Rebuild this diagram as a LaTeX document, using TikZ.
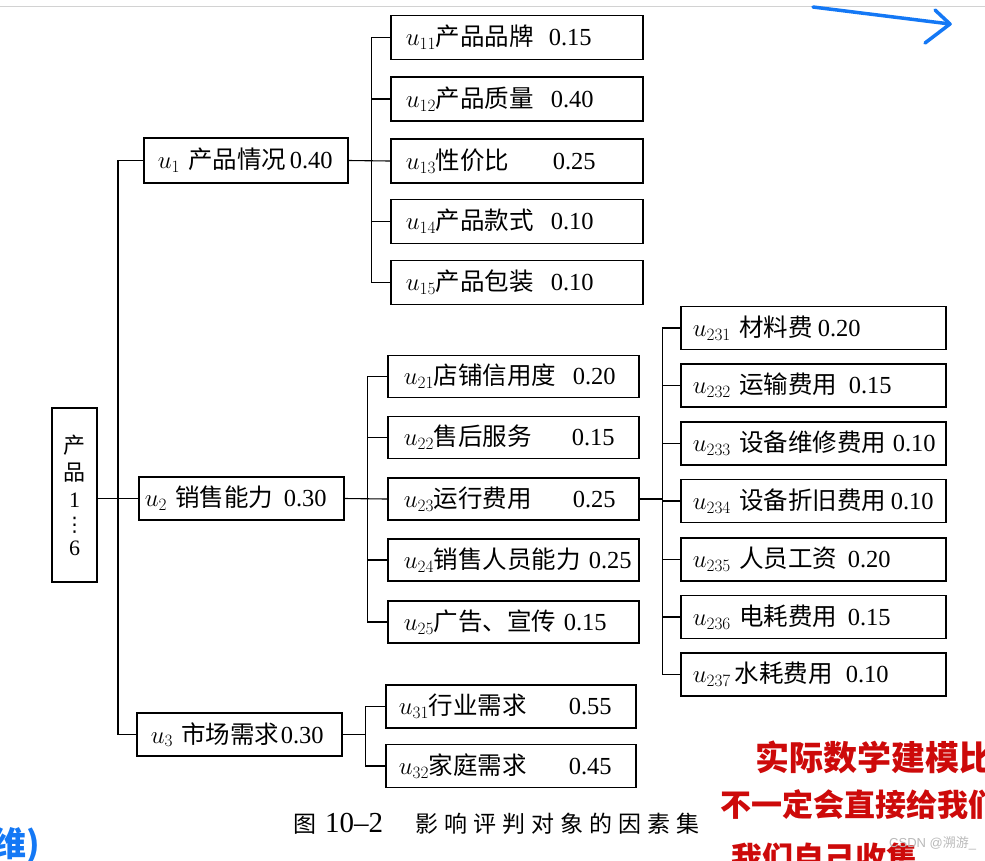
\documentclass[tikz,border=0pt]{standalone}
\usepackage{fontspec}
\setmainfont{Liberation Serif}
\setsansfont{Liberation Sans}
\newfontfamily\cjk{Noto Sans CJK SC}
\newfontfamily\cjkcap[LetterSpace=26]{Noto Sans CJK SC}
\newfontfamily\sym{DejaVu Sans}
\usetikzlibrary{arrows.meta, positioning}

\definecolor{handred}{RGB}{205,10,10}
\definecolor{handblue}{RGB}{20,120,245}

\newcommand{\zh}[1]{{\cjk #1}}
\newcommand{\boxfont}{\fontsize{24.5pt}{28pt}\selectfont}
\newcommand{\handfont}{\cjk\bfseries\fontsize{34pt}{36pt}\selectfont}
% pad, offset of the weight, index, label, weight
\newcommand{\fac}[5]{\hspace*{#1pt}\makebox[#2pt][l]{$u_{#3}$\zh{#4}}#5}

\begin{document}
\begin{tikzpicture}[
  x=1pt, y=-1pt,
  box/.style={draw, line width=1.5pt, inner sep=0pt, anchor=west, align=left, font=\boxfont},
  lvl/.style={box, text width=205pt, minimum height=43pt},
  grpa/.style={box, text width=252pt, minimum height=44pt},
  grpb/.style={box, text width=251pt, minimum height=42pt},
  grpc/.style={box, text width=265pt, minimum height=43pt},
  grpd/.style={box, text width=250pt, minimum height=43pt},
  link/.style={line width=1.1pt},
  hand/.style={anchor=west, inner sep=0pt, font=\handfont}
]
\useasboundingbox (0,0) rectangle (985,860);
\draw[gray!35, line width=1pt] (0,6) -- (985,6);

% root
\node[draw, line width=1.5pt, inner sep=0pt, minimum width=45pt, minimum height=174pt,
  align=center, font=\fontsize{22pt}{27pt}\selectfont] (prod) at (74.5,495)
  {\zh{产}\\\zh{品}\\[0pt]1\\[-3pt]{\sym\fontsize{20pt}{22pt}\selectfont ⋮}\\[-3pt]6};

% first level
\node[lvl, text width=204pt, minimum height=45pt] (u1) at (143,160.5) {\fac{14}{132}{1}{~产品情况}{0.40}};
\node[lvl] (u2) at (138,498.5) {\fac{6}{139}{2}{~销售能力}{0.30}};
\node[lvl] (u3) at (136,734.5) {\fac{14}{130}{3}{~市场需求}{0.30}};

% u1 group
\node[grpa] (u11) at (390,37.5) {\fac{15}{143}{11}{产品品牌}{0.15}};
\node[grpa] (u12) at (390,99) {\fac{15}{145}{12}{产品质量}{0.40}};
\node[grpa] (u13) at (390,161) {\fac{15}{147}{13}{性价比}{0.25}};
\node[grpa] (u14) at (390,221.5) {\fac{15}{145}{14}{产品款式}{0.10}};
\node[grpa] (u15) at (390,282.5) {\fac{15}{145}{15}{产品包装}{0.10}};

% u2 group
\node[grpb] (u21) at (387,376.5) {\fac{16}{169}{21}{店铺信用度}{0.20}};
\node[grpb] (u22) at (387,437.5) {\fac{16}{168}{22}{售后服务}{0.15}};
\node[grpb] (u23) at (387,499) {\fac{16}{169}{23}{运行费用}{0.25}};
\node[grpb] (u24) at (387,560) {\fac{16}{185}{24}{销售人员能力}{0.25}};
\node[grpb] (u25) at (387,622) {\fac{16}{160}{25}{广告、宣传}{0.15}};

% u23 group
\node[grpc] (u231) at (680,328) {\fac{12}{125}{231}{~材料费}{0.20}};
\node[grpc] (u232) at (680,385.5) {\fac{12}{156}{232}{~运输费用}{0.15}};
\node[grpc] (u233) at (680,443.5) {\fac{12}{200}{233}{~设备维修费用}{0.10}};
\node[grpc] (u234) at (680,501) {\fac{12}{198}{234}{~设备折旧费用}{0.10}};
\node[grpc] (u235) at (680,559.5) {\fac{12}{155}{235}{~人员工资}{0.20}};
\node[grpc] (u236) at (680,617) {\fac{12}{155}{236}{~电耗费用}{0.15}};
\node[grpc] (u237) at (680,674.5) {\fac{12}{153}{237}{\,水耗费用}{0.10}};

% u3 group
\node[grpd] (u31) at (385,706.5) {\fac{13}{170}{31}{行业需求}{0.55}};
\node[grpd] (u32) at (385,766) {\fac{13}{170}{32}{家庭需求}{0.45}};

% connectors
\draw[link] (prod.east |- u2.west) -- (u2.west);
\draw[link] (u1.west) -- ++(-25,0) |- (u3.west);
\draw[link] (u1.east) -- ++(23,0) |- (u11.west);
\draw[link] (u1.east) -- ++(23,0) |- (u12.west);
\draw[link] (u1.east) -- (u13.west);
\draw[link] (u1.east) -- ++(23,0) |- (u14.west);
\draw[link] (u1.east) -- ++(23,0) |- (u15.west);
\draw[link] (u2.east) -- ++(23,0) |- (u21.west);
\draw[link] (u2.east) -- ++(23,0) |- (u22.west);
\draw[link] (u2.east) -- (u23.west);
\draw[link] (u2.east) -- ++(23,0) |- (u24.west);
\draw[link] (u2.east) -- ++(23,0) |- (u25.west);
\draw[link] (u23.east) -- ++(23,0) |- (u231.west);
\draw[link] (u23.east) -- ++(23,0) |- (u232.west);
\draw[link] (u23.east) -- ++(23,0) |- (u233.west);
\draw[link] (u23.east) -- ++(23,0) |- (u234.west);
\draw[link] (u23.east) -- ++(23,0) |- (u235.west);
\draw[link] (u23.east) -- ++(23,0) |- (u236.west);
\draw[link] (u23.east) -- ++(23,0) |- (u237.west);
\draw[link] (u3.east) -- ++(23,0) |- (u31.west);
\draw[link] (u3.east) -- ++(23,0) |- (u32.west);

% caption
\node[anchor=west, inner sep=0pt, font=\fontsize{23pt}{26pt}\selectfont] (cap) at (293,824)
  {{\cjkcap 图}\hspace{9pt}{\fontsize{29pt}{30pt}\selectfont 10–2}\hspace{32pt}{\cjkcap 影响评判对象的因素集}};

% handwritten notes
\draw[handblue, line width=3.5pt, line cap=round, line join=round] (813,7) -- (950,24);
\draw[handblue, line width=3.5pt, line cap=round, line join=round] (935,10) -- (950,24) -- (925,43);
\node[hand, text=handblue] (note0) at (-8,845) {维)};
\node[hand, text=handred] (note1) at (755,757) {实际数学建模比};
\node[hand, text=handred, font=\cjk\bfseries\fontsize{31pt}{33pt}\selectfont] (note2) at (720,805) {不一定会直接给我们};
\node[hand, text=handred, font=\cjk\bfseries\fontsize{31pt}{33pt}\selectfont] (note3) at (731,858) {我们自己收集};
\node[anchor=west, inner sep=0pt, text=gray!55, font=\sffamily\fontsize{13pt}{14pt}\selectfont] (mark) at (889,843) {CSDN @\zh{溯游}\_};
\end{tikzpicture}
\end{document}
